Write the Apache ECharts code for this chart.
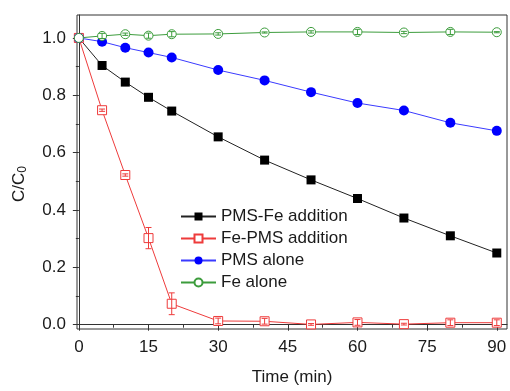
<!DOCTYPE html>
<html>
<head>
<meta charset="utf-8">
<script src="https://cdn.jsdelivr.net/npm/echarts@6/dist/echarts.min.js"></script>
<style>html,body{margin:0;padding:0;background:#fff}#c{width:510px;height:391px}</style>
</head>
<body>
<div id="c"></div>
<script>
const time = [0, 5, 10, 15, 20, 30, 40, 50, 60, 70, 80, 90];
const pmsFe = [1.0, 0.904, 0.846, 0.793, 0.745, 0.655, 0.574, 0.505, 0.44, 0.372, 0.31, 0.25];
const fePms = [1.0, 0.748, 0.522, 0.302, 0.073, 0.013, 0.012, 0.001, 0.008, 0.002, 0.007, 0.007];
const fePmsErr = [0, 0.004, 0.004, 0.037, 0.038, 0.01, 0.01, 0.003, 0.01, 0.003, 0.01, 0.01];
const pmsAlone = [1.0, 0.987, 0.966, 0.949, 0.932, 0.888, 0.852, 0.811, 0.773, 0.747, 0.704, 0.676];
const feAlone = [1.0, 1.007, 1.013, 1.008, 1.013, 1.014, 1.019, 1.021, 1.021, 1.019, 1.021, 1.020];
const feAloneErr = [0, 0.009, 0.004, 0.009, 0.009, 0.004, 0.002, 0.004, 0.009, 0.004, 0.009, 0.002];
const xMajor = [0, 15, 30, 45, 60, 75, 90];
const xMinor = [7.5, 22.5, 37.5, 52.5, 67.5, 82.5];
const yMajor = [0, 0.2, 0.4, 0.6, 0.8, 1.0];
const yMinor = [0.1, 0.3, 0.5, 0.7, 0.9];
const names = ['PMS-Fe addition', 'Fe-PMS addition', 'PMS alone', 'Fe alone'];

const RED = '#ee3b3b', BLUE = '#0000ff', GREEN = '#3c9c3c', AX = '#333';
const FONT = 'Liberation Sans, Arial, sans-serif';

function pairs(ys) { return time.map((t, i) => [t, ys[i]]); }
function errData(ys, es) { return time.map((t, i) => [t, ys[i] - es[i], ys[i] + es[i]]).filter((d, i) => es[i] > 0); }
function errRender(color) {
  return function (params, api) {
    const x = api.value(0), lo = api.value(1), hi = api.value(2);
    const p1 = api.coord([x, hi]), p2 = api.coord([x, lo]);
    const w = 3;
    const st = { stroke: color, lineWidth: 1 };
    return {
      type: 'group', children: [
        { type: 'line', shape: { x1: p1[0], y1: p1[1], x2: p2[0], y2: p2[1] }, style: st },
        { type: 'line', shape: { x1: p1[0] - w, y1: p1[1], x2: p1[0] + w, y2: p1[1] }, style: st },
        { type: 'line', shape: { x1: p2[0] - w, y1: p2[1], x2: p2[0] + w, y2: p2[1] }, style: st }
      ]
    };
  };
}

const chart = echarts.init(document.getElementById('c'), null, { renderer: 'canvas' });
const xBase = { type: 'value', min: -0.4, max: 92.2, splitLine: { show: false } };
const yBase = { type: 'value', min: -0.015, max: 1.08, splitLine: { show: false } };
chart.setOption({
  animation: false,
  textStyle: { fontFamily: FONT },
  grid: { left: 77, right: 3, top: 15, bottom: 60, show: true, borderColor: AX, borderWidth: 1, backgroundColor: 'transparent' },
  xAxis: [
    Object.assign({}, xBase, {
      position: 'bottom',
      axisLine: { show: true, lineStyle: { color: AX, width: 1 } },
      axisTick: { show: true, customValues: xMajor, length: 6, lineStyle: { color: AX } },
      axisLabel: { customValues: xMajor, fontSize: 17, color: '#1a1a1a', margin: 10, fontFamily: FONT },
      name: 'Time (min)', nameLocation: 'middle', nameGap: 40,
      nameTextStyle: { fontSize: 17, color: '#1a1a1a', fontFamily: FONT }
    }),
    Object.assign({}, xBase, {
      position: 'bottom',
      axisLine: { show: false },
      axisTick: { show: true, customValues: xMinor, length: 3, lineStyle: { color: AX } },
      axisLabel: { show: false }
    })
  ],
  yAxis: [
    Object.assign({}, yBase, {
      position: 'left',
      axisLine: { show: true, lineStyle: { color: AX, width: 1 } },
      axisTick: { show: true, customValues: yMajor, length: 6, lineStyle: { color: AX } },
      axisLabel: { customValues: yMajor, fontSize: 17, color: '#1a1a1a', margin: 11, fontFamily: FONT, formatter: v => v.toFixed(1) }
    }),
    Object.assign({}, yBase, {
      position: 'left',
      axisLine: { show: false },
      axisTick: { show: true, customValues: yMinor, length: 3, lineStyle: { color: AX } },
      axisLabel: { show: false }
    })
  ],
  legend: {
    data: names, orient: 'vertical', left: 175, top: 203, itemWidth: 35, itemHeight: 10, itemGap: 5,
    textStyle: { fontSize: 17, color: '#1a1a1a', fontFamily: FONT }
  },
  graphic: [{
    type: 'text', x: 19, y: 184, rotation: Math.PI / 2,
    style: {
      text: '{a|C/C}{b|0}', align: 'center', verticalAlign: 'middle',
      rich: {
        a: { fontSize: 17, fill: '#1a1a1a', fontFamily: FONT },
        b: { fontSize: 12, fill: '#1a1a1a', fontFamily: FONT, padding: [8, 0, 0, 0] }
      }
    }
  }],
  series: [
    { name: names[0], type: 'line', data: pairs(pmsFe), symbol: 'rect', symbolSize: 9,
      lineStyle: { color: '#222', width: 1 }, itemStyle: { color: '#000' } },
    { name: names[1], type: 'line', data: pairs(fePms), symbol: 'rect', symbolSize: 9,
      lineStyle: { color: RED, width: 1 }, itemStyle: { color: '#fff', borderColor: RED, borderWidth: 1 } },
    { name: names[2], type: 'line', data: pairs(pmsAlone), symbol: 'circle', symbolSize: 10,
      lineStyle: { color: '#3a3aff', width: 1 }, itemStyle: { color: BLUE } },
    { name: names[3], type: 'line', data: pairs(feAlone), symbol: 'circle', symbolSize: 9,
      lineStyle: { color: GREEN, width: 1 }, itemStyle: { color: '#fff', borderColor: GREEN, borderWidth: 1 } },
    { type: 'custom', data: errData(fePms, fePmsErr), renderItem: errRender(RED), z: 5, silent: true },
    { type: 'custom', data: errData(feAlone, feAloneErr), renderItem: errRender(GREEN), z: 5, silent: true }
  ]
});
</script>
</body>
</html>
